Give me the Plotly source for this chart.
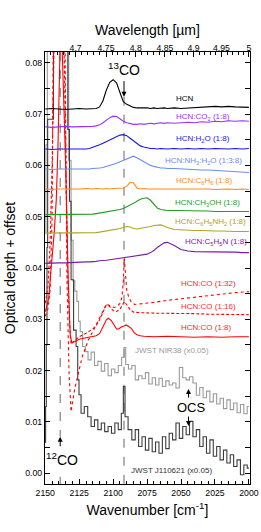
import plotly.graph_objects as go

# ---------------- data ----------------
wn_lab = [2150, 2145, 2140, 2135, 2130, 2125, 2120, 2117.5, 2115, 2112.5, 2110, 2107.5, 2105,
          2102.5, 2100, 2097.5, 2095, 2092.5, 2090, 2087.5, 2085, 2082.5, 2080, 2077.5, 2075,
          2072.5, 2070, 2067.5, 2065, 2062.5, 2060, 2055, 2050, 2045, 2040, 2035, 2030, 2025,
          2020, 2015, 2010, 2005, 2000]

hcn = [0.0710, 0.0711, 0.0710, 0.0709, 0.0710, 0.0711, 0.0710, 0.0710, 0.0710, 0.0711, 0.0714,
       0.0726, 0.0747, 0.0762, 0.0767, 0.0761, 0.0742, 0.0724, 0.0719, 0.0716, 0.0713, 0.0712,
       0.0712, 0.0713, 0.0712, 0.0711, 0.0712, 0.0711, 0.0712, 0.0712, 0.0711, 0.0712, 0.0711,
       0.0712, 0.0713, 0.0714, 0.0714, 0.0715, 0.0714, 0.0715, 0.0714, 0.0714, 0.0713]
hcn_co2 = [0.0675, 0.0674, 0.0675, 0.0676, 0.0675, 0.0675, 0.0676, 0.0675, 0.0676, 0.0677, 0.0679,
           0.0683, 0.0688, 0.0693, 0.0696, 0.0695, 0.0691, 0.0686, 0.0683, 0.0681, 0.0680, 0.0680,
           0.0681, 0.0680, 0.0681, 0.0682, 0.0681, 0.0682, 0.0683, 0.0682, 0.0683, 0.0682, 0.0683,
           0.0684, 0.0683, 0.0685, 0.0684, 0.0686, 0.0685, 0.0687, 0.0686, 0.0687, 0.0686]
hcn_h2o = [0.0632, 0.0631, 0.0632, 0.0632, 0.0631, 0.0632, 0.0632, 0.0633, 0.0635, 0.0637, 0.0640,
           0.0643, 0.0646, 0.0650, 0.0653, 0.0656, 0.0659, 0.0660, 0.0658, 0.0653, 0.0648, 0.0642,
           0.0638, 0.0636, 0.0634, 0.0633, 0.0633, 0.0632, 0.0633, 0.0632, 0.0632, 0.0633, 0.0632,
           0.0633, 0.0632, 0.0633, 0.0632, 0.0633, 0.0632, 0.0632, 0.0633, 0.0632, 0.0633]
hcn_nh3_h2o = [0.0593, 0.0592, 0.0593, 0.0593, 0.0592, 0.0593, 0.0593, 0.0593, 0.0594, 0.0594,
               0.0595, 0.0596, 0.0598, 0.0600, 0.0601, 0.0604, 0.0607, 0.0610, 0.0613, 0.0616,
               0.0618, 0.0615, 0.0611, 0.0607, 0.0603, 0.0600, 0.0598, 0.0596, 0.0595, 0.0595,
               0.0594, 0.0594, 0.0593, 0.0592, 0.0592, 0.0591, 0.0591, 0.0590, 0.0589, 0.0589,
               0.0588, 0.0587, 0.0586]
hcn_c6h6 = [0.0554, 0.0553, 0.0554, 0.0554, 0.0553, 0.0554, 0.0555, 0.0554, 0.0554, 0.0555, 0.0554,
            0.0554, 0.0555, 0.0554, 0.0555, 0.0555, 0.0556, 0.0556, 0.0559, 0.0567, 0.0566, 0.0556,
            0.0554, 0.0555, 0.0554, 0.0554, 0.0555, 0.0554, 0.0554, 0.0555, 0.0554, 0.0554, 0.0555,
            0.0554, 0.0554, 0.0555, 0.0554, 0.0553, 0.0554, 0.0554, 0.0553, 0.0554, 0.0553]
hcn_ch3oh = [0.0504, 0.0504, 0.0505, 0.0504, 0.0504, 0.0505, 0.0504, 0.0505, 0.0505, 0.0506, 0.0507,
             0.0508, 0.0509, 0.0510, 0.0511, 0.0512, 0.0514, 0.0516, 0.0519, 0.0522, 0.0526, 0.0530,
             0.0534, 0.0536, 0.0537, 0.0532, 0.0524, 0.0517, 0.0514, 0.0513, 0.0512, 0.0512, 0.0512,
             0.0511, 0.0511, 0.0511, 0.0511, 0.0510, 0.0510, 0.0510, 0.0510, 0.0510, 0.0510]
hcn_c6h5nh2 = [0.0468, 0.0468, 0.0469, 0.0468, 0.0468, 0.0469, 0.0468, 0.0469, 0.0469, 0.0469,
               0.0470, 0.0471, 0.0472, 0.0473, 0.0474, 0.0475, 0.0477, 0.0479, 0.0481, 0.0480,
               0.0477, 0.0476, 0.0477, 0.0478, 0.0480, 0.0481, 0.0483, 0.0484, 0.0484, 0.0482,
               0.0479, 0.0475, 0.0474, 0.0473, 0.0473, 0.0473, 0.0472, 0.0472, 0.0472, 0.0471,
               0.0471, 0.0471, 0.0471]
hcn_c5h5n = [0.0409, 0.0410, 0.0410, 0.0410, 0.0411, 0.0411, 0.0412, 0.0412, 0.0412, 0.0413, 0.0414,
             0.0414, 0.0415, 0.0416, 0.0417, 0.0417, 0.0418, 0.0419, 0.0420, 0.0421, 0.0422, 0.0423,
             0.0424, 0.0425, 0.0427, 0.0430, 0.0434, 0.0440, 0.0445, 0.0449, 0.0450, 0.0444, 0.0436,
             0.0433, 0.0432, 0.0432, 0.0432, 0.0432, 0.0431, 0.0431, 0.0431, 0.0430, 0.0430]

wn_co8 = [2150, 2147.5, 2145.6, 2143.4, 2141.9, 2140.7, 2139.3, 2138.5, 2137.5, 2135.3, 2133.1,
          2131.6, 2130.4, 2128, 2125, 2120, 2115, 2112.5, 2110, 2107.5, 2105, 2103.5, 2101.5,
          2099.5, 2097.5, 2096, 2094, 2092, 2090.5, 2088.5, 2086.5, 2084.5, 2082.5, 2080, 2077.5,
          2070, 2060, 2050, 2040, 2030, 2020, 2010, 2000]
hcn_co8 = [0.0315, 0.0340, 0.0402, 0.0469, 0.0533, 0.0630, 0.0806, 0.1500, 0.0822, 0.0630, 0.0377,
           0.0269, 0.0254, 0.0257, 0.0261, 0.0264, 0.0267, 0.0268, 0.0272, 0.0286, 0.0299, 0.0302,
           0.0298, 0.0290, 0.0281, 0.0281, 0.0285, 0.0287, 0.0289, 0.0286, 0.0282, 0.0274, 0.0270,
           0.0268, 0.0267, 0.0266, 0.0267, 0.0266, 0.0265, 0.0266, 0.0265, 0.0266, 0.0266]

wn_co16 = [2150, 2148, 2146.5, 2145, 2143.5, 2140, 2136.5, 2135, 2133.5, 2132, 2131, 2128, 2125,
           2120, 2115, 2112.5, 2110, 2107.5, 2105, 2103, 2100, 2097.5, 2095, 2093, 2092, 2091,
           2089, 2087.5, 2085, 2082.5, 2080, 2070, 2060, 2050, 2040, 2030, 2020, 2010, 2000]
hcn_co16 = [0.0331, 0.0365, 0.0444, 0.0592, 0.0838, 0.2000, 0.0888, 0.0592, 0.0395, 0.0286, 0.0252,
            0.0259, 0.0266, 0.0273, 0.0281, 0.0288, 0.0299, 0.0314, 0.0328, 0.0326, 0.0317, 0.0315,
            0.0320, 0.0328, 0.0334, 0.0332, 0.0324, 0.0319, 0.0314, 0.0313, 0.0313, 0.0312, 0.0312,
            0.0311, 0.0311, 0.0310, 0.0310, 0.0309, 0.0309]

wn_co32 = [2150, 2148, 2146.5, 2145, 2144, 2140, 2136.5, 2135.5, 2134, 2132.5, 2131.6, 2131, 2130.3,
           2128, 2125, 2122.8, 2120, 2118.4, 2115, 2113.2, 2110, 2108.8, 2106.5, 2105, 2103, 2101,
           2099.3, 2097, 2095, 2093.5, 2092.5, 2091.8, 2091, 2090, 2088.5, 2086.5, 2084, 2080, 2070,
           2060, 2050, 2040, 2030, 2020, 2010, 2000]
hcn_co32 = [0.0306, 0.0321, 0.0355, 0.0493, 0.0888, 0.3000, 0.1184, 0.0838, 0.0375, 0.0197, 0.0128,
            0.0120, 0.0133, 0.0168, 0.0202, 0.0227, 0.0247, 0.0259, 0.0276, 0.0285, 0.0301, 0.0309,
            0.0321, 0.0330, 0.0328, 0.0325, 0.0323, 0.0325, 0.0331, 0.0343, 0.0375, 0.0419, 0.0390,
            0.0357, 0.0343, 0.0333, 0.0329, 0.0330, 0.0333, 0.0337, 0.0340, 0.0344, 0.0347, 0.0350,
            0.0352, 0.0354]

wn_nir38 = [2150, 2149, 2148, 2140, 2133.5, 2132, 2130, 2129, 2127.5, 2126, 2125, 2123.5, 2121.5,
            2119.5, 2117.5, 2115, 2112.5, 2110, 2107.5, 2105, 2102.5, 2100, 2097.5, 2095, 2092.5,
            2091.5, 2090, 2087.5, 2085, 2082.5, 2080, 2077.5, 2075, 2072.5, 2070, 2067.5, 2065,
            2062.5, 2060, 2057.5, 2055, 2052.5, 2050, 2047.5, 2045, 2042.5, 2040, 2037.5, 2035,
            2032.5, 2030, 2027.5, 2025, 2022.5, 2020, 2017.5, 2015, 2012.5, 2010, 2007.5, 2005,
            2002.5, 2000]
jwst_nir38 = [0.047, 0.064, 0.094, 0.300, 0.094, 0.061, 0.0454, 0.0375, 0.0355, 0.0335, 0.0296,
              0.0276, 0.0247, 0.0237,
              0.0221, 0.0236, 0.0210, 0.0218, 0.0199, 0.0214, 0.0190, 0.0203, 0.0196, 0.0210,
              0.0226, 0.0245, 0.0212, 0.0203, 0.0210, 0.0182, 0.0190, 0.0184, 0.0196, 0.0174,
              0.0186, 0.0172, 0.0185, 0.0169, 0.0180, 0.0172, 0.0176, 0.0166, 0.0206, 0.0186,
              0.0182, 0.0188, 0.0176, 0.0152, 0.0167, 0.0147, 0.0160, 0.0139, 0.0155, 0.0135,
              0.0146, 0.0126, 0.0143, 0.0124, 0.0137, 0.0118, 0.0134, 0.0116, 0.0130]

wn_j110621 = [2150, 2149.5, 2149, 2148.5, 2148, 2140, 2134, 2132.8, 2131.6, 2130.4, 2127.9, 2126.7,
              2125.5, 2124.8, 2122.5, 2120, 2117.5, 2115, 2112.5, 2110, 2107.5, 2105, 2102.5, 2100,
              2097.5, 2095, 2093, 2092, 2090.5, 2087.5, 2085, 2082.5, 2080, 2077.5, 2075, 2072.5,
              2070, 2067.5, 2065, 2062.5, 2060, 2057.5, 2055, 2052.5, 2050, 2047.5, 2045, 2042.5,
              2040, 2037.5, 2035, 2032.5, 2030, 2027.5, 2025, 2022.5, 2020, 2017.5, 2015, 2012.5,
              2010, 2007.5, 2005, 2002.5, 2000]
jwst_j110621 = [0.006, 0.013, 0.025, 0.044, 0.069, 0.300, 0.087, 0.067, 0.053, 0.0377, 0.0279, 0.0247,
                0.0182, 0.0153, 0.0117, 0.0130, 0.0110, 0.0091, 0.0104, 0.0085, 0.0098, 0.0081,
                0.0091, 0.0078, 0.0098, 0.0085, 0.0117, 0.0169, 0.0110, 0.0085, 0.0065, 0.0085,
                0.0052, 0.0071, 0.0045, 0.0068, 0.0042, 0.0061, 0.0039, 0.0071, 0.0048, 0.0078,
                0.0065, 0.0098, 0.0068, 0.0091, 0.0075, 0.0101, 0.0071, 0.0085, 0.0052, 0.0071,
                0.0039, 0.0065, 0.0033, 0.0052, 0.0026, 0.0045, 0.0020, 0.0036, 0.0013, 0.0026,
                -0.0003, 0.0016, 0.0010]

wl_ticks = [4.7, 4.75, 4.8, 4.85, 4.9, 4.95, 5.0]
wl_tick_text = ["4.7", "4.75", "4.8", "4.85", "4.9", "4.95", "5"]
wl_minor = [round(4.65 + 0.01 * i, 2) for i in range(36)]

co12_wn, co13_wn, ocs_wn = 2139.0, 2092.0, 2044.5

# ---------------- styling ----------------
FONT = "Liberation Sans, Arial, Helvetica, sans-serif"
XR = [2150.2, 1999.2]
YR = [-0.0021, 0.0821]

lab = [
    ("HCN", hcn, "#000000", "HCN", 2055.1, 0.0730),
    ("HCN:CO2", hcn_co2, "#9b30ff", "HCN:CO<sub>2</sub> (1:8)", 2055.1, 0.0695),
    ("HCN:H2O", hcn_h2o, "#1515e8", "HCN:H<sub>2</sub>O (1:8)", 2055.1, 0.0652),
    ("HCN:NH3:H2O", hcn_nh3_h2o, "#6a8cf5", "HCN:NH<sub>3</sub>:H<sub>2</sub>O (1:3:8)", 2063.2, 0.0609),
    ("HCN:C6H6", hcn_c6h6, "#ff8c1a", "HCN:C<sub>6</sub>H<sub>6</sub> (1:8)", 2055.1, 0.0570),
    ("HCN:CH3OH", hcn_ch3oh, "#1e9e1e", "HCN:CH<sub>3</sub>OH (1:8)", 2055.9, 0.0527),
    ("HCN:C6H5NH2", hcn_c6h5nh2, "#b3a322", "HCN:C<sub>6</sub>H<sub>5</sub>NH<sub>2</sub> (1:8)", 2055.9, 0.0489),
    ("HCN:C5H5N", hcn_c5h5n, "#7e1a9e", "HCN:C<sub>5</sub>H<sub>5</sub>N (1:8)", 2048.5, 0.0450),
]

fig = go.Figure()

# JWST spectra
fig.add_trace(go.Scatter(x=wn_nir38, y=jwst_nir38, mode="lines", line=dict(color="#9a9a9a", width=1.1, shape="hvh"),
                         showlegend=False, hoverinfo="skip"))
fig.add_trace(go.Scatter(x=wn_j110621, y=jwst_j110621, mode="lines", line=dict(color="#3c3c3c", width=1.1, shape="hvh"),
                         showlegend=False, hoverinfo="skip"))

# HCN:CO mixtures
fig.add_trace(go.Scatter(x=wn_co32, y=hcn_co32, mode="lines", line=dict(color="#ff0000", width=1.1, dash="dot"),
                         showlegend=False, hoverinfo="skip"))
fig.add_trace(go.Scatter(x=wn_co16, y=hcn_co16, mode="lines", line=dict(color="#ff0000", width=1.1, dash="3px,2px"),
                         showlegend=False, hoverinfo="skip"))
fig.add_trace(go.Scatter(x=wn_co8, y=hcn_co8, mode="lines", line=dict(color="#ff0000", width=1.1),
                         showlegend=False, hoverinfo="skip"))

# other lab spectra (first two on the overlay axes so those axes are drawn)
for i, (name, vals, col, lbl, lx, ly) in enumerate(lab):
    xa = "x2" if i == 0 else ("x3" if i == 1 else "x")
    fig.add_trace(go.Scatter(x=wn_lab, y=vals, mode="lines", line=dict(color=col, width=1.1),
                             xaxis=xa, yaxis="y", showlegend=False, hoverinfo="skip", name=name))

annotations = []
for name, vals, col, lbl, lx, ly in lab:
    annotations.append(dict(x=lx, y=ly, xref="x", yref="y", text=lbl, showarrow=False,
                            xanchor="left", yanchor="middle", font=dict(family=FONT, size=8, color=col)))

mix_labels = [("HCN:CO (1:32)", 0.0370), ("HCN:CO (1:16)", 0.0325), ("HCN:CO (1:8)", 0.0285)]
for t, ly in mix_labels:
    annotations.append(dict(x=2051.5, y=ly, xref="x", yref="y", text=t, showarrow=False,
                            xanchor="left", yanchor="middle", font=dict(family=FONT, size=8, color="#ff2a2a")))
annotations.append(dict(x=2085.3, y=0.0239, xref="x", yref="y", text="JWST NIR38 (x0.05)", showarrow=False,
                        xanchor="left", yanchor="middle", font=dict(family=FONT, size=8, color="#9a9a9a")))
annotations.append(dict(x=2088.2, y=0.0006, xref="x", yref="y", text="JWST J110621 (x0.05)", showarrow=False,
                        xanchor="left", yanchor="middle", font=dict(family=FONT, size=8, color="#333333")))

# molecule markers
annotations.append(dict(x=co13_wn, y=0.0788, xref="x", yref="y", text="<sup>13</sup>CO", showarrow=False,
                        xanchor="center", yanchor="middle", font=dict(family=FONT, size=14, color="black")))
annotations.append(dict(x=co13_wn, y=0.0734, xref="x", yref="y", text="", showarrow=True, ax=0, ay=-17,
                        arrowhead=2, arrowsize=1, arrowwidth=1, arrowcolor="black"))
annotations.append(dict(x=2137.5, y=0.0028, xref="x", yref="y", text="<sup>12</sup>CO", showarrow=False,
                        xanchor="center", yanchor="middle", font=dict(family=FONT, size=14, color="black")))
annotations.append(dict(x=co12_wn, y=0.0071, xref="x", yref="y", text="", showarrow=True, ax=0, ay=11,
                        arrowhead=2, arrowsize=1, arrowwidth=1, arrowcolor="black"))
annotations.append(dict(x=2042.5, y=0.0129, xref="x", yref="y", text="OCS", showarrow=False,
                        xanchor="center", yanchor="middle", font=dict(family=FONT, size=13, color="black")))
annotations.append(dict(x=ocs_wn, y=0.0164, xref="x", yref="y", text="", showarrow=True, ax=0, ay=10,
                        arrowhead=2, arrowsize=1, arrowwidth=1, arrowcolor="black"))
annotations.append(dict(x=ocs_wn, y=0.0092, xref="x", yref="y", text="", showarrow=True, ax=0, ay=-11,
                        arrowhead=2, arrowsize=1, arrowwidth=1, arrowcolor="black"))

shapes = [
    dict(type="line", xref="x", yref="y", x0=co13_wn, x1=co13_wn, y0=0.0734, y1=YR[0],
         line=dict(color="#808080", width=1.2, dash="dash"), layer="below"),
    dict(type="line", xref="x", yref="y", x0=co12_wn, x1=co12_wn, y0=YR[1], y1=0.0071,
         line=dict(color="#808080", width=1.2, dash="dash"), layer="below"),
    dict(type="line", xref="x", yref="y", x0=co12_wn, x1=co12_wn, y0=-0.0007, y1=YR[0],
         line=dict(color="#808080", width=1.2, dash="dash"), layer="below"),
]

tickfont = dict(family=FONT, size=8.7, color="black")
titlefont = dict(family=FONT, size=14, color="black")

fig.update_layout(
    width=261, height=532,
    margin=dict(l=45, r=11, t=52, b=48),
    paper_bgcolor="white", plot_bgcolor="white",
    showlegend=False,
    annotations=annotations,
    shapes=shapes,
    xaxis=dict(range=XR, tickmode="linear", tick0=2000, dtick=25, ticks="inside", ticklen=5,
               tickwidth=1, tickcolor="black", showline=True, linecolor="black", linewidth=1.2,
               mirror=True, showgrid=False, zeroline=False, tickfont=tickfont, automargin=False,
               minor=dict(dtick=5, tick0=2000, ticks="inside", ticklen=2.5, tickcolor="black", showgrid=False),
               title=dict(text="Wavenumber [cm<sup>-1</sup>]", font=titlefont, standoff=8)),
    xaxis2=dict(range=XR, overlaying="x", side="top", tickmode="array",
                tickvals=[1e4 / w for w in wl_ticks], ticktext=wl_tick_text, automargin=False,
                ticks="inside", ticklen=5, tickwidth=1, tickcolor="black", showline=False,
                showgrid=False, zeroline=False, tickfont=tickfont, ticklabelstandoff=-2,
                title=dict(text="Wavelength [µm]", font=titlefont, standoff=4)),
    xaxis3=dict(range=XR, overlaying="x", side="top", tickmode="array", automargin=False,
                tickvals=[1e4 / w for w in wl_minor], ticks="inside", ticklen=2.5, tickwidth=1,
                tickcolor="black", showticklabels=False, showline=False, showgrid=False, zeroline=False),
    yaxis=dict(range=YR, tickmode="linear", tick0=0, dtick=0.01, tickformat=".2f", ticks="inside",
               ticklen=5, tickwidth=1, tickcolor="black", showline=True, linecolor="black",
               linewidth=1.2, mirror="allticks", showgrid=False, zeroline=False, tickfont=tickfont,
               automargin=False,
               minor=dict(dtick=0.005, tick0=0, ticks="inside", ticklen=2.5, tickcolor="black", showgrid=False),
               title=dict(text="Optical depth + offset", font=titlefont, standoff=6)),
)

fig.write_html("out.html", config={"displayModeBar": False},
               post_script="document.body.style.margin='0px';")
